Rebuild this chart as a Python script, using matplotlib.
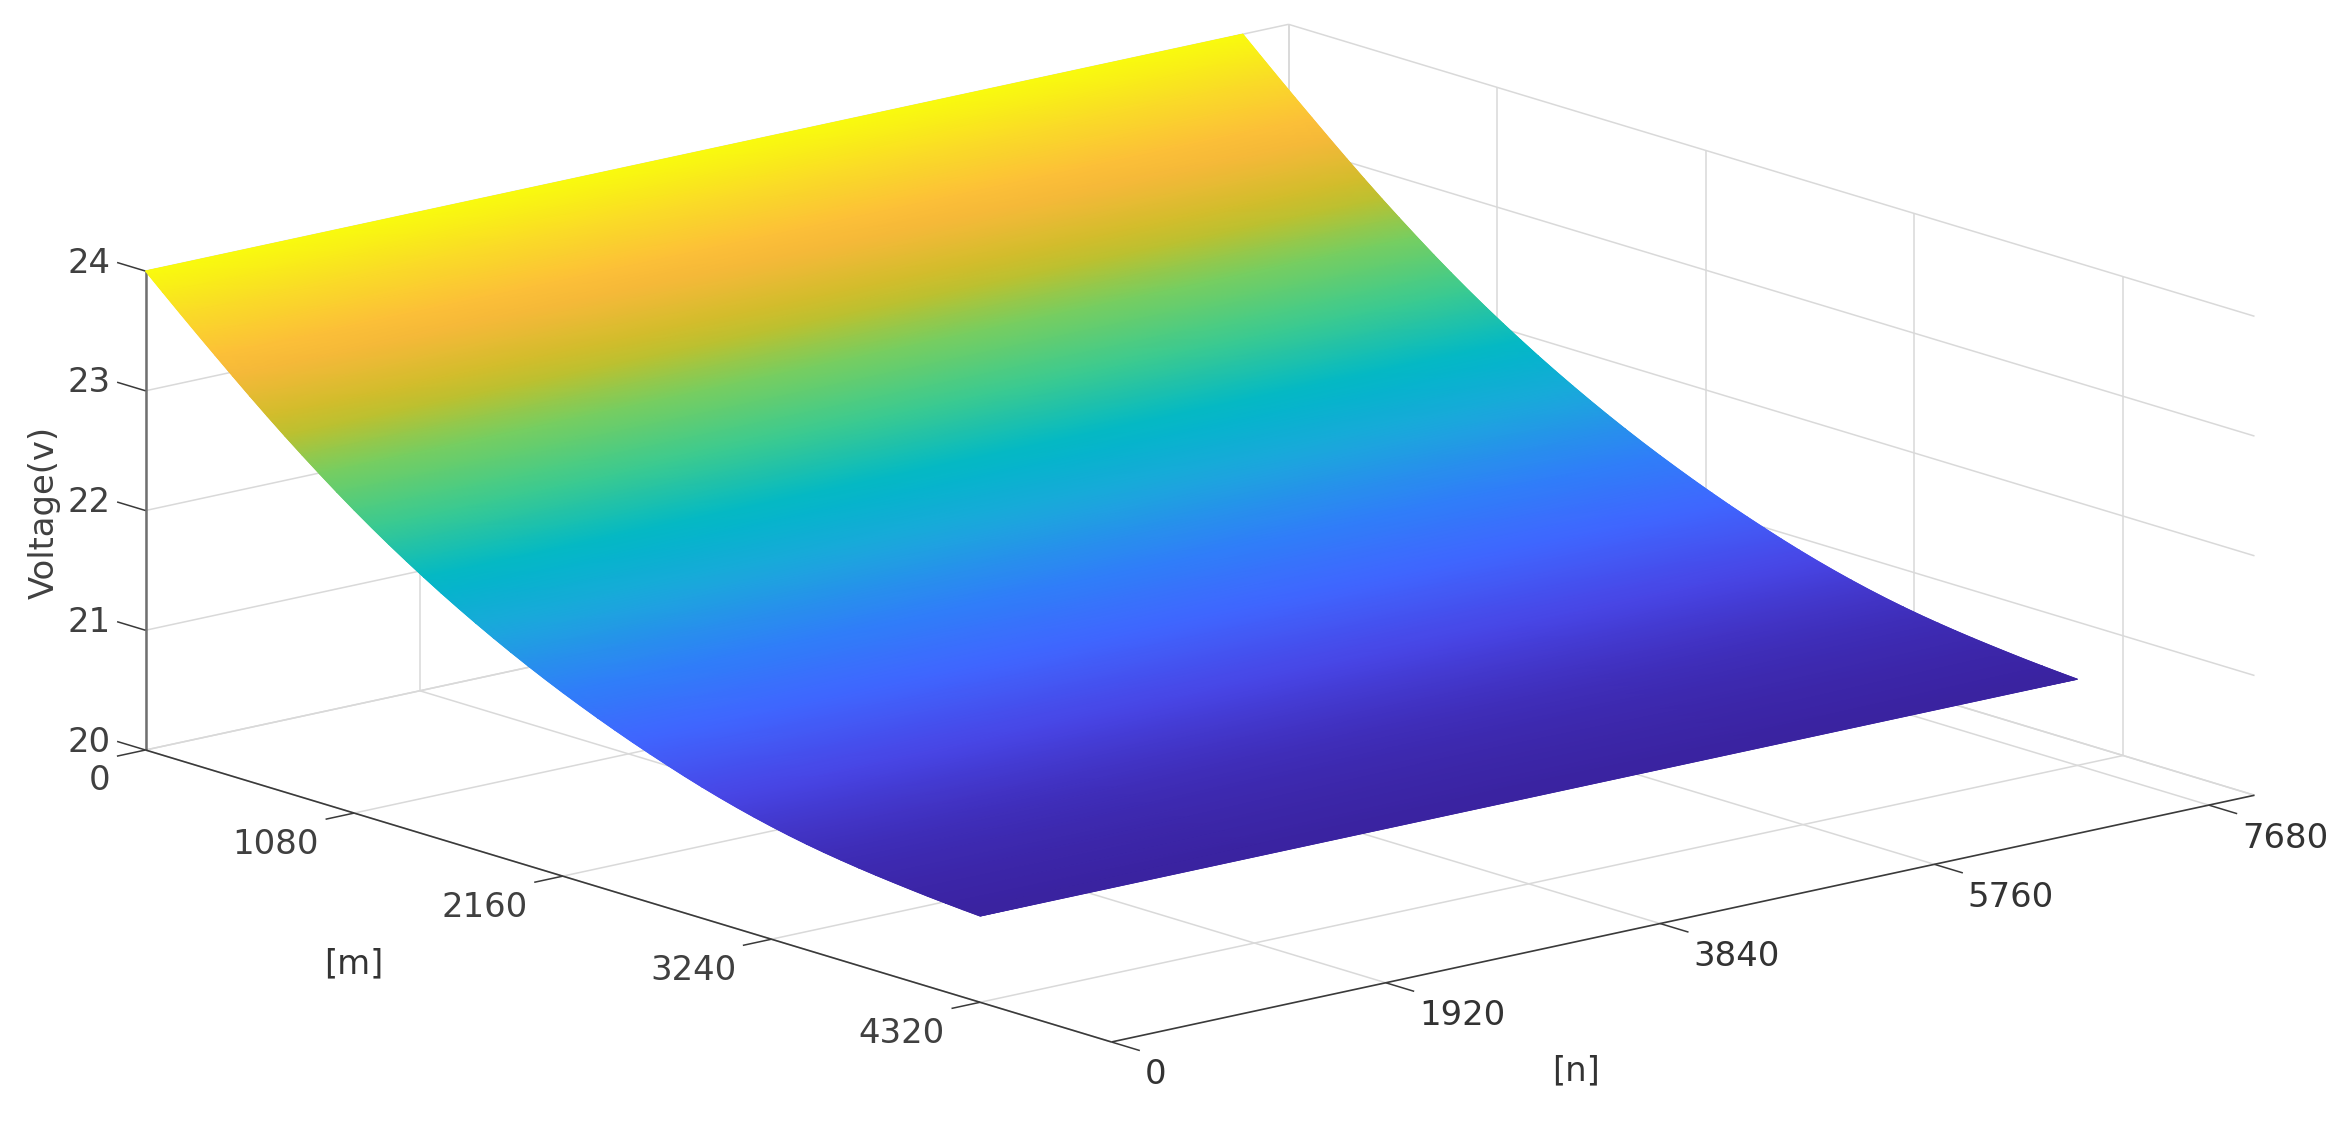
import numpy as np
import matplotlib
matplotlib.use("Agg")
import matplotlib.pyplot as plt
from matplotlib.colors import LinearSegmentedColormap
from mpl_toolkits.mplot3d import proj3d

W, H = 2352, 1125

# values
m_values = list(range(0, 4321, 90))
n_values = [0, 7680]
voltage = [
    24.000, 23.866, 23.733, 23.602, 23.473, 23.345, 23.219, 23.096, 22.976, 22.860,
    22.747, 22.637, 22.531, 22.429, 22.331, 22.237, 22.146, 22.058, 21.974, 21.893,
    21.815, 21.740, 21.668, 21.599, 21.533, 21.470, 21.409, 21.351, 21.295, 21.242,
    21.191, 21.142, 21.096, 21.053, 21.013, 20.976, 20.942, 20.911, 20.883, 20.858,
    20.836, 20.816, 20.798, 20.782, 20.767, 20.753, 20.741, 20.730, 20.720,
]
m_ticks = [0, 1080, 2160, 3240, 4320]
n_ticks = [0, 1920, 3840, 5760, 7680]
z_ticks = [20, 21, 22, 23, 24]
M_MAX, N_MAX = 5000, 8000
Z_MIN, Z_MAX = 20, 24

# colour stops, voltage -> colour
color_volts = [20.72, 20.85, 21.05, 21.3, 21.55, 21.85, 22.12, 22.45, 22.78, 23.02, 23.4, 23.7, 24.0]
color_hex = ["#3A23A0", "#3F2DB8", "#4846E6", "#4066FF", "#2F80F8", "#1CA8DC", "#00B8C8",
             "#3ECB8E", "#7DCE5C", "#C8BE28", "#FDB83C", "#FAD82A", "#F9FB0E"]

GRID = "#d9d9d9"
AXIS_M = "#3a3a3a"
AXIS_Z = "#707070"
TEXT = "#333333"
FS = 24.4

span = color_volts[-1] - color_volts[0]
cmap = LinearSegmentedColormap.from_list(
    "surf", [((v - color_volts[0]) / span, c) for v, c in zip(color_volts, color_hex)], N=512
)

fig = plt.figure(figsize=(W / 100, H / 100), dpi=100, facecolor="white")
ax = fig.add_axes([0, 0, 2000 / W, 2000 / H], projection="3d", computed_zorder=False)
ax.set_proj_type("ortho")
ax.view_init(elev=14.8, azim=-40.2)
ax.set_box_aspect((1, 1, 0.331))
ax.set_xlim(0, M_MAX, view_margin=0)
ax.set_ylim(0, N_MAX, view_margin=0)
ax.set_zlim(Z_MIN, Z_MAX, view_margin=0)
ax.set_axis_off()


def to_px(x, y, z):
    xd, yd, _ = proj3d.proj_transform(x, y, z, ax.get_proj())
    return ax.transData.transform((xd, yd))


# fit the box to the reference: floor corner (0,0) at (145.5, 750), full width 2109 px
ax.apply_aspect()
measured = to_px(M_MAX, N_MAX, Z_MIN)[0] - to_px(0, 0, Z_MIN)[0]
size = 2000 * 2109 / measured
ax.set_position([0, 0, size / W, size / H])
ax.apply_aspect()
p0 = to_px(0, 0, Z_MIN)
ax.set_position([(145.5 - p0[0]) / W, (H - 750 - p0[1]) / H, size / W, size / H])
ax.apply_aspect()


def line3(x, y, z, color=GRID, lw=1.1, zorder=1):
    ax.plot(x, y, z, color=color, lw=lw, zorder=zorder, solid_capstyle="butt", clip_on=False)


# back walls and floor grid
for m in m_ticks:
    line3([m, m], [0, N_MAX], [Z_MIN, Z_MIN])
    line3([m, m], [N_MAX, N_MAX], [Z_MIN, Z_MAX])
for n in n_ticks:
    line3([0, M_MAX], [n, n], [Z_MIN, Z_MIN])
    line3([0, 0], [n, n], [Z_MIN, Z_MAX])
for z in z_ticks:
    line3([0, 0], [0, N_MAX], [z, z])
    line3([0, M_MAX], [N_MAX, N_MAX], [z, z])
line3([0, M_MAX], [N_MAX, N_MAX], [Z_MIN, Z_MIN])
line3([0, 0], [N_MAX, N_MAX], [Z_MIN, Z_MAX])

# surface
X, Y = np.meshgrid(m_values, n_values, indexing="ij")
Z = np.column_stack([voltage, voltage])
face = cmap((Z - color_volts[0]) / span)
ax.plot_surface(X, Y, Z, rstride=1, cstride=1, facecolors=face,
                shade=False, linewidth=0.5, antialiased=True, zorder=2)

# smooth shading between the rows: same vertices, gouraud mesh on a pixel-space overlay
overlay = fig.add_axes([0, 0, 1, 1], facecolor="none")
overlay.set_xlim(0, W)
overlay.set_ylim(0, H)
overlay.set_axis_off()
px = np.array([to_px(a, b, c) for a, b, c in zip(X.ravel(), Y.ravel(), Z.ravel())])
overlay.pcolormesh(px[:, 0].reshape(X.shape), px[:, 1].reshape(X.shape), Z, shading="gouraud",
                   cmap=cmap, vmin=color_volts[0], vmax=color_volts[-1])

# axis lines and ticks
line3([0, 0], [0, 0], [Z_MIN, Z_MAX], color=AXIS_Z, lw=1.8, zorder=3)
line3([0, M_MAX], [0, 0], [Z_MIN, Z_MIN], color=AXIS_M, lw=1.2, zorder=3)
line3([M_MAX, M_MAX], [0, N_MAX], [Z_MIN, Z_MIN], color=AXIS_M, lw=1.2, zorder=3)
for z in z_ticks:
    line3([-147, 0], [0, 0], [z, z], color=AXIS_M, lw=1.1, zorder=3)
for m in m_ticks:
    line3([m, m], [-200, 0], [Z_MIN, Z_MIN], color=AXIS_M, lw=1.1, zorder=3)
for n in n_ticks:
    line3([M_MAX, M_MAX + 147], [n, n], [Z_MIN, Z_MIN], color=AXIS_M, lw=1.1, zorder=3)


def label(text, point, dx, dy, **kw):
    xd, yd, _ = proj3d.proj_transform(*point, ax.get_proj())
    ax.annotate(text, xy=(xd, yd), xytext=(dx, -dy), textcoords="offset pixels",
                fontsize=FS, color=kw.pop("color", TEXT), annotation_clip=False, zorder=4, **kw)


for z in z_ticks:
    label(str(z), (0, 0, z), -35, -8, ha="right", va="center", color="#404040")
for m in m_ticks:
    label(str(m), (m, 0, Z_MIN), -35, 31, ha="right", va="center", color="#404040")
for n in n_ticks:
    label(str(n), (M_MAX, n, Z_MIN), 33, 33, ha="left", va="center", color="#333333")

label("[m]", (2500, 0, Z_MIN), -275, 68, ha="center", va="center")
label("[n]", (M_MAX, 4000, Z_MIN), -107, 152, ha="center", va="center")
label("Voltage(v)", (0, 0, 22), -101, 2, ha="center", va="center", rotation=90, color="#404040")

fig.savefig("out.png", dpi=100, facecolor="white")
